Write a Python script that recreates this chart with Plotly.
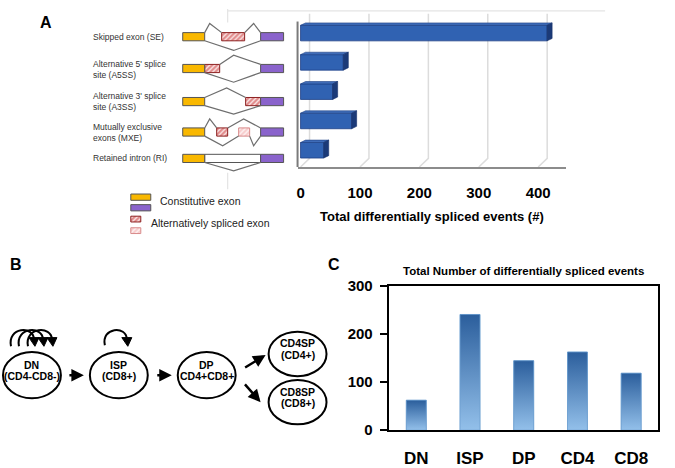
import plotly.graph_objects as go

# ---------------- data ----------------
event_labels = ["Skipped exon (SE)",
                "Alternative 5' splice<br>site (A5SS)",
                "Alternative 3' splice<br>site (A3SS)",
                "Mutually exclusive<br>exons (MXE)",
                "Retained intron (RI)"]
event_counts = [415, 72, 54, 86, 39]
event_ticks = [0, 100, 200, 300, 400]
event_axis_title = "Total differentially spliced events (#)"

stages = ["DN", "ISP", "DP", "CD4", "CD8"]
stage_counts = [62, 240, 144, 162, 118]
stage_ticks = [0, 100, 200, 300]
stage_title = "Total Number of differentially spliced events"

# ---------------- geometry helpers ----------------
W, H = 675, 468
FONT = "Arial, Liberation Sans, sans-serif"


def px_x(p):
    return p / W


def px_y(p):
    return 1 - p / H


fig = go.Figure()
shapes = []
annots = []

# ================= Panel A : horizontal 3D-like bars =================
A_L, A_R, A_T, A_B = 297, 566, 5, 164
A_X0 = 300          # pixel of value 0
A_SCALE = 0.595     # px per unit
A_ROW0, A_STEP = 25, 30.4
a_xrange = [(A_L - A_X0) / A_SCALE, (A_R - A_X0) / A_SCALE]
a_yrange = [(A_B - A_ROW0) / A_STEP, (A_T - A_ROW0) / A_STEP]
rows = list(range(len(event_counts)))
BAR_H = 0.53

fig.add_trace(go.Bar(x=event_counts, y=rows, orientation="h", width=BAR_H,
                     marker=dict(color="#3062b2", line=dict(color="#1d3f85", width=0.8)),
                     xaxis="x", yaxis="y", showlegend=False, hoverinfo="x"))

# 3D faces of the bars
ddx = 5 / A_SCALE
ddy = 2.5 / A_STEP
h = BAR_H / 2
for i, v in zip(rows, event_counts):
    shapes.append(dict(type="path", xref="x", yref="y", layer="above",
                       path=f"M 0,{i-h} L {ddx},{i-h-ddy} L {v+ddx},{i-h-ddy} L {v},{i-h} Z",
                       fillcolor="#3f6cb8", line=dict(color="#1d3f85", width=0.6)))
    shapes.append(dict(type="path", xref="x", yref="y", layer="above",
                       path=f"M {v},{i-h} L {v+ddx},{i-h-ddy} L {v+ddx},{i+h-ddy} L {v},{i+h} Z",
                       fillcolor="#1b3a78", line=dict(color="#15306a", width=0.6)))

# perspective gridlines
gdx = 9 / A_SCALE
for v in event_ticks:
    shapes.append(dict(type="path", xref="x", yref="paper", layer="below",
                       path=f"M {v},{px_y(A_B)} L {v+gdx},{px_y(155)} L {v+gdx},{px_y(A_T)}",
                       line=dict(color="#dcdcdc", width=1.5)))
# left axis line
shapes.append(dict(type="line", xref="paper", yref="paper",
                   x0=px_x(A_L), x1=px_x(A_L), y0=px_y(13), y1=px_y(A_B),
                   line=dict(color="#7a7a7a", width=2)))

fig.update_layout(
    xaxis=dict(domain=[px_x(A_L), px_x(A_R)], range=a_xrange, anchor="y",
               showgrid=False, zeroline=False, showline=True, linecolor="#8c8c8c", linewidth=2,
               tickvals=event_ticks, ticks="", ticklabelstandoff=11,
               tickfont=dict(family=FONT, size=15, color="black", weight="bold"),
               title=dict(text=event_axis_title, standoff=12,
                          font=dict(family=FONT, size=13, color="black", weight="bold"))),
    yaxis=dict(domain=[px_y(A_B), px_y(A_T)], range=a_yrange, anchor="x",
               visible=False, showgrid=False, zeroline=False),
)

# ================= Panel C : vertical gradient bars =================
C_L, C_R, C_T, C_B = 389, 658, 287, 437
C_W = 0.37
xs = list(range(len(stages)))
fig.add_trace(go.Bar(x=xs, y=stage_counts, width=C_W,
                     marker=dict(color="#4f86c3", line=dict(color="#6f9fd0", width=0.8)),
                     xaxis="x2", yaxis="y2", showlegend=False, hoverinfo="y"))
for i, v in zip(xs, stage_counts):
    fig.add_trace(go.Scatter(x=[i - C_W / 2, i + C_W / 2, i + C_W / 2, i - C_W / 2, i - C_W / 2],
                             y=[0, 0, v, v, 0], mode="lines", fill="toself",
                             fillgradient=dict(type="vertical",
                                               colorscale=[[0, "#93c0ea"], [1, "#2b5e9c"]]),
                             line=dict(color="rgba(110,160,210,0.8)", width=0.8),
                             xaxis="x2", yaxis="y2", showlegend=False, hoverinfo="skip"))

fig.update_layout(
    xaxis2=dict(domain=[px_x(C_L), px_x(C_R)], range=[-0.5, len(stages) - 0.5], anchor="y2",
                tickvals=xs, ticktext=stages, ticks="", showgrid=False, zeroline=False,
                showline=True, mirror=True, linecolor="black", linewidth=1.5,
                ticklabelstandoff=12,
                tickfont=dict(family=FONT, size=17, color="black", weight="bold")),
    yaxis2=dict(domain=[px_y(C_B), px_y(C_T)], range=[0, 300], anchor="x2",
                tickvals=stage_ticks, ticks="outside", ticklen=8, tickwidth=1.5, tickcolor="black",
                showgrid=False, zeroline=False, showline=True, mirror=True,
                linecolor="black", linewidth=1.5, ticklabelstandoff=4,
                tickfont=dict(family=FONT, size=15, color="black", weight="bold")),
)
annots.append(dict(x=523, y=272, xref="x3", yref="y3", text=f"<b>{stage_title}</b>",
                   showarrow=False, font=dict(family=FONT, size=11.5, color="black")))

# ================= Overlay pixel axes for diagrams =================
fig.update_layout(
    xaxis3=dict(domain=[0, 1], range=[0, W], anchor="y3", visible=False, fixedrange=True),
    yaxis3=dict(domain=[0, 1], range=[H, 0], anchor="x3", visible=False, fixedrange=True),
)

GRAY = "#6e6e6e"


def rect(x0, y0, x1, y1, fill, line="#555555", w=1):
    shapes.append(dict(type="rect", xref="x3", yref="y3", x0=x0, x1=x1, y0=y0, y1=y1,
                       fillcolor=fill, line=dict(color=line, width=w), layer="above"))


def poly(pts, color=GRAY, w=1.2):
    d = "M " + " L ".join(f"{x},{y}" for x, y in pts)
    shapes.append(dict(type="path", xref="x3", yref="y3", path=d,
                       line=dict(color=color, width=w), layer="above"))


def hatch(x0, y0, x1, y1, light=False):
    fg = "#f09a9a" if light else "#c41818"
    ln = "#d88a8a" if light else "#8c2020"
    fig.add_trace(go.Scatter(x=[x0, x1, x1, x0, x0], y=[y0, y0, y1, y1, y0], mode="lines",
                             fill="toself", fillcolor="white",
                             fillpattern=dict(shape="/", fgcolor=fg, bgcolor="white",
                                              size=3.5, solidity=0.7),
                             line=dict(color=ln, width=1), xaxis="x3", yaxis="y3",
                             showlegend=False, hoverinfo="skip"))


YEL, PUR = "#f9b800", "#8a63cc"
YX0, YX1, PX0, PX1 = 182, 204, 260, 283
row_tops = [24.5, 57.5, 91.8, 123.4, 150.8]
EH = 8.5

# exon bodies
for k, t in enumerate(row_tops):
    if k == 4:
        rect(YX1, t, PX0, t + EH, "white", "#555555", 1)
    rect(YX0, t, YX1, t + EH, YEL)
    rect(PX0, t, PX1, t + EH, PUR)

# SE
t = row_tops[0]
hatch(221, t, 244, t + EH)
poly([(204, t), (209, 15), (221, t)])
poly([(244, t), (253, 15), (260, t)])
poly([(204, t + EH), (233, 43), (260, t + EH)])
# A5SS
t = row_tops[1]
hatch(204, t, 219, t + EH)
poly([(219, t), (233, 48), (260, t)])
poly([(204, t + EH), (233, 76), (260, t + EH)])
# A3SS
t = row_tops[2]
hatch(245, t, 260, t + EH)
poly([(204, t), (226, 82), (245, t)])
poly([(204, t + EH), (233, 109), (260, t + EH)])
# MXE
t = row_tops[3]
hatch(216, t, 227, t + EH)
hatch(238, t, 249, t + EH, light=True)
poly([(204, t), (209, 114), (216, t)])
poly([(227, t), (243, 114), (260, t)])
poly([(204, t + EH), (222, 142), (238, t + EH)])
poly([(249, t + EH), (253, 142), (260, t + EH)])
# RI
t = row_tops[4]
poly([(204, t + EH), (233, 168), (260, t + EH)])

# row labels
label_y = [29, 62.5, 96, 128.5, 154.5]
for lab, yy in zip(event_labels, label_y):
    annots.append(dict(x=90, y=yy, xref="x3", yref="y3", text=lab, showarrow=False,
                       xanchor="left", yanchor="middle", align="left",
                       font=dict(family=FONT, size=8.5, color="#333333")))

# legend
rect(130, 192, 150, 198.5, YEL)
rect(130, 203, 150, 209.5, PUR)
hatch(130, 215, 140, 221)
hatch(130, 227, 140, 233, light=True)
annots.append(dict(x=157, y=199, xref="x3", yref="y3", text="Constitutive exon", showarrow=False,
                   xanchor="left", font=dict(family=FONT, size=10.5, color="#222222")))
annots.append(dict(x=148, y=222.5, xref="x3", yref="y3", text="Alternatively spliced exon",
                   showarrow=False, xanchor="left", font=dict(family=FONT, size=10.5, color="#222222")))

# faint frame of panel A
for (x0, y0, x1, y1) in [(227, 2, 605, 2), (227, 0, 227, 14), (227, 170, 227, 187)]:
    shapes.append(dict(type="line", xref="x3", yref="y3", x0=x0, y0=y0, x1=x1, y1=y1,
                       line=dict(color="#e4e4e4", width=1.2), layer="below"))

# panel letters
for txt, x, y in [("A", 45, 14), ("B", 15, 265), ("C", 333, 265)]:
    annots.append(dict(x=x, y=y, xref="x3", yref="y3", text=f"<b>{txt}</b>", showarrow=False,
                       font=dict(family=FONT, size=16, color="black")))

# ================= Panel B : differentiation diagram =================
cells = [
    (31, 380, 29, 24, "DN", "(CD4-CD8-)"),
    (118, 380, 29, 24, "ISP", "(CD8+)"),
    (206, 380, 29, 24, "DP", "CD4+CD8+"),
    (297, 358, 29, 23, "CD4SP", "(CD4+)"),
    (297, 408, 29, 23, "CD8SP", "(CD8+)"),
]
for cx, cy, rx, ry, l1, l2 in cells:
    shapes.append(dict(type="circle", xref="x3", yref="y3", x0=cx - rx, x1=cx + rx,
                       y0=cy - ry, y1=cy + ry, line=dict(color="black", width=2), layer="above"))
    annots.append(dict(x=cx, y=cy - 11, xref="x3", yref="y3", text=f"<b>{l1}</b>", showarrow=False,
                       font=dict(family=FONT, size=10.5, color="black")))
    annots.append(dict(x=cx, y=cy + 1, xref="x3", yref="y3", text=f"<b>{l2}</b>", showarrow=False,
                       font=dict(family=FONT, size=10.5, color="black")))

# straight arrows
for (tx, ty, hx, hy) in [(67, 380, 83, 380), (155, 380, 171, 380),
                         (243, 373, 265, 359), (243, 388, 260, 408)]:
    annots.append(dict(x=hx, y=hy, ax=tx, ay=ty, xref="x3", yref="y3", axref="x3", ayref="y3",
                       text="", showarrow=True, arrowhead=2, arrowsize=1, arrowwidth=2.5,
                       arrowcolor="black", standoff=0))

# self-renewal loops
loops = [(104, 349, 126), (10, 350, 33), (18, 350, 42), (27, 350, 51)]
for sx, sy, ex in loops:
    shapes.append(dict(type="path", xref="x3", yref="y3",
                       path=f"M {sx},{sy} C {sx-4},{330} {ex},{328} {ex},{343}",
                       line=dict(color="black", width=2), layer="above"))
    shapes.append(dict(type="path", xref="x3", yref="y3",
                       path=f"M {ex-5},{341} L {ex+5},{341} L {ex+1},{350} Z",
                       fillcolor="black", line=dict(color="black", width=1), layer="above"))

fig.update_layout(
    width=W, height=H, autosize=False,
    margin=dict(l=0, r=0, t=0, b=0),
    paper_bgcolor="white", plot_bgcolor="rgba(0,0,0,0)",
    showlegend=False, shapes=shapes, annotations=annots,
    font=dict(family=FONT),
)

fig.write_html("out.html", config={"displayModeBar": False},
               post_script="document.body.style.margin='0';document.body.style.overflow='hidden';")
